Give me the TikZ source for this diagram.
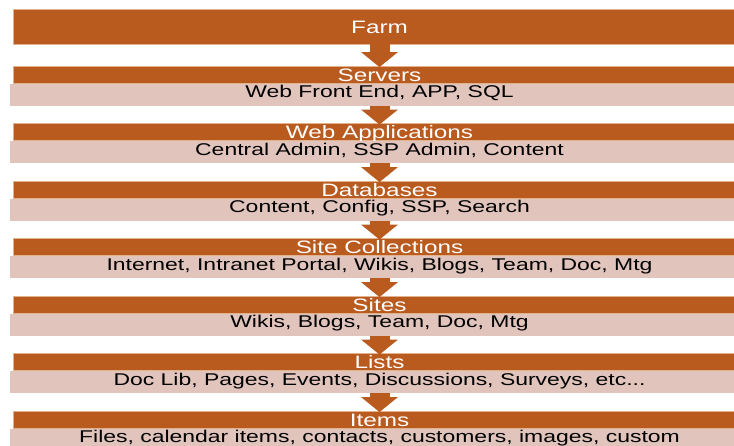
\documentclass[tikz,border=0pt]{standalone}
\usepackage{fontspec}
\setmainfont{Liberation Sans}[FakeStretch=1.35]
\usetikzlibrary{positioning,arrows.meta}

\definecolor{barorange}{RGB}{185,90,31}
\definecolor{bandpink}{RGB}{225,197,188}
\definecolor{baredge}{RGB}{226,178,140}

\tikzset{
  level/.style={rectangle, fill=barorange, draw=baredge, line width=0.8pt,
    minimum width=733pt, minimum height=17pt, inner sep=0pt,
    text=white, font=\fontsize{18}{18}\selectfont, text height=13pt, text depth=0pt},
  detail/.style={rectangle, fill=bandpink, minimum width=739pt, minimum height=22pt,
    inner sep=0pt, text=black, font=\fontsize{17}{17}\selectfont,
    text height=12pt, text depth=6pt},
  flow/.style={barorange, line width=20pt, shorten >=-1.5pt,
    -{Triangle[width=36pt,length=15pt]}}
}

\begin{document}
\begin{tikzpicture}[x=1pt, y=-1pt, node distance=0pt]
\useasboundingbox (0,0) rectangle (734,445);
\clip (0,0) rectangle (734,445);

% === Farm ===
\node[level, minimum height=35pt] (Farm) at (379.5,26.5) {Farm};

% === Levels ===
\foreach \name/\detail [count=\i] in {
  Servers/{Web Front End, APP, SQL},
  Web Applications/{Central Admin, SSP Admin, Content},
  Databases/{Content, Config, SSP, Search},
  Site Collections/{Internet, Intranet Portal, Wikis, Blogs, Team, Doc, Mtg},
  Sites/{Wikis, Blogs, Team, Doc, Mtg},
  Lists/{Doc Lib, Pages, Events, Discussions, Surveys, etc...},
  Items/{Files, calendar items, contacts, customers, images, custom}}{
  \node[level] (Level-\i) at (379.5,{74.5+57.5*(\i-1)}) {\name};
  \node[detail, below=of Level-\i] (Detail-\i) {\detail};
}

% === Arrows ===
\draw[flow] (Farm) -- (Level-1);
\foreach \i [evaluate=\i as \j using int(\i-1)] in {2,...,7}{
  \draw[flow] (Detail-\j) -- (Level-\i);
}
\end{tikzpicture}
\end{document}
